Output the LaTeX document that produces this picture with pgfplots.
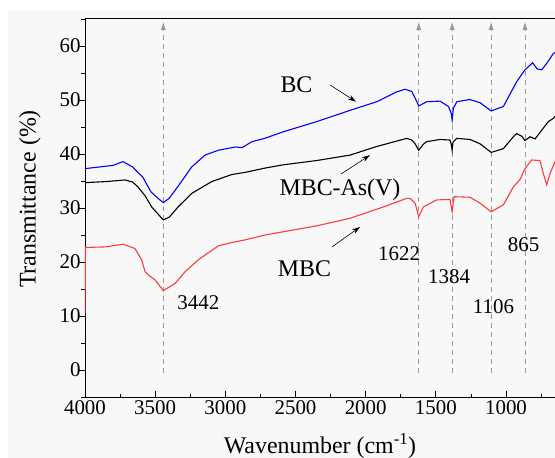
\documentclass[border=0pt]{standalone}
\usepackage{fontspec}
\setmainfont{Liberation Serif}
\usepackage{pgfplots}
\pgfplotsset{compat=1.18}
\usetikzlibrary{arrows.meta}

\definecolor{bgc}{HTML}{F8F8F8}
\definecolor{bcblue}{HTML}{0000FF}
\definecolor{mbcred}{HTML}{FF3B3B}
\definecolor{guide}{HTML}{999999}

\begin{document}
\begin{tikzpicture}
\useasboundingbox (-85bp,-61bp) rectangle (470bp,397bp);
\fill[bgc] (-77bp,-61bp) rectangle (470bp,387bp);
\begin{axis}[
    scale only axis,
    width=470bp, height=379bp,
    x dir=reverse,
    xmin=651, xmax=4000,
    ymin=-5, ymax=65.2,
    xtick={1000,1500,...,4000},
    minor xtick={750,1250,...,3750},
    ytick={0,10,...,60},
    minor ytick={-5,5,...,65},
    xtick pos=left, ytick pos=left,
    tick align=inside,
    major tick length=6bp, minor tick length=3.5bp,
    major y tick style={xshift=-6bp},
    minor y tick style={xshift=-3.5bp},
    tick style={black, line width=0.8bp},
    axis line style={line width=0.9bp},
    /pgf/number format/assume math mode=true,
    /pgf/number format/1000 sep={},
    ticklabel style={font=\fontsize{21}{21}\selectfont},
    yticklabel style={xshift=-1bp},
    xlabel={Wavenumber (cm\textsuperscript{-1})},
    label style={font=\fontsize{24}{24}\selectfont},
    xlabel style={at={(axis description cs:0.5,0)}, anchor=center, yshift=-49bp},
    clip=true,
]
% guide lines at band positions
\addplot[guide, line width=0.9bp, dash pattern=on 5bp off 4bp, -{Latex[length=8bp,width=5bp]}] coordinates {(3442,-0.5) (3442,64.5)};
\addplot[guide, line width=0.9bp, dash pattern=on 5bp off 4bp, -{Latex[length=8bp,width=5bp]}] coordinates {(1622,-0.5) (1622,64.5)};
\addplot[guide, line width=0.9bp, dash pattern=on 5bp off 4bp, -{Latex[length=8bp,width=5bp]}] coordinates {(1384,-0.5) (1384,64.5)};
\addplot[guide, line width=0.9bp, dash pattern=on 5bp off 4bp, -{Latex[length=8bp,width=5bp]}] coordinates {(1106,-0.5) (1106,64.5)};
\addplot[guide, line width=0.9bp, dash pattern=on 5bp off 4bp, -{Latex[length=8bp,width=5bp]}] coordinates {(865,-0.5) (865,64.5)};

% BC
\addplot[bcblue, line width=1.1bp] coordinates {
(4000,37.3) (3900,37.6) (3800,37.9) (3730,38.6) (3660,37.6) (3620,36.5)
(3590,35.8) (3530,33.0) (3480,31.8) (3442,31.0) (3400,31.8) (3340,33.9)
(3240,37.6) (3145,39.8) (3050,40.7) (2930,41.3) (2880,41.2) (2810,42.3)
(2720,42.9) (2590,44.1) (2350,46.0) (2110,48.1) (1920,49.7) (1780,51.5)
(1720,52.0) (1672,51.6) (1650,50.5) (1622,48.9) (1565,49.7) (1470,49.8)
(1410,48.8) (1390,47.5) (1384,46.3) (1375,48.5) (1350,49.7) (1257,50.1)
(1185,49.5) (1106,48.0) (1019,48.8) (924,53.4) (865,55.6) (810,56.9)
(780,55.8) (746,55.6) (710,56.8) (686,57.7) (663,58.6) (651,58.8)
};
% MBC-As(V)
\addplot[black, line width=1.1bp] coordinates {
(4000,34.7) (3850,34.9) (3715,35.2) (3660,34.8) (3622,33.9) (3570,32.2)
(3525,30.2) (3442,27.8) (3400,28.3) (3337,30.2) (3240,32.7) (3097,34.9)
(2955,36.2) (2860,36.6) (2717,37.4) (2589,38.0) (2349,38.8) (2112,39.8)
(1921,41.4) (1779,42.4) (1708,42.9) (1672,42.6) (1650,42.0) (1622,40.7)
(1590,41.8) (1565,42.3) (1470,42.7) (1400,42.6) (1390,41.8) (1384,40.7)
(1378,42.2) (1351,42.9) (1257,42.7) (1185,41.9) (1106,40.3) (1019,41.0)
(948,43.2) (924,43.8) (888,43.3) (865,42.5) (829,43.2) (793,42.8)
(746,44.4) (699,46.0) (663,46.6) (651,47.0)
};
% MBC
\addplot[mbcred, line width=1.1bp] coordinates {
(4000,10.5) (3996,22.7) (3857,22.8) (3727,23.3) (3644,22.5) (3596,20.4)
(3572,18.2) (3549,17.6) (3501,16.7) (3442,14.7) (3359,16.0) (3287,18.2)
(3193,20.4) (3050,23.0) (2955,23.6) (2860,24.1) (2717,25.0) (2589,25.6)
(2349,26.7) (2112,28.1) (1874,30.2) (1708,31.8) (1684,31.8) (1648,30.9)
(1622,28.4) (1589,30.2) (1494,31.5) (1399,31.6) (1384,29.3) (1370,32.1)
(1257,32.0) (1185,30.9) (1106,29.3) (1019,30.6) (948,33.9) (900,35.3)
(865,37.3) (817,38.9) (758,38.8) (734,36.4) (710,34.3) (686,36.4) (651,38.6)
};

% curve labels and pointers
\node[font=\fontsize{24}{24}\selectfont] at (axis cs:2493,52.8) {BC};
\draw[black, line width=0.6bp, -{Stealth[length=8bp,width=5bp]}] (axis cs:2254,52.8) -- (axis cs:2069,49.7);
\node[font=\fontsize{24}{24}\selectfont] at (axis cs:2183,33.3) {MBC-As(V)};
\draw[black, line width=0.6bp, -{Stealth[length=8bp,width=5bp]}] (axis cs:2176,36.3) -- (axis cs:1969,39.8);
\node[font=\fontsize{24}{24}\selectfont] at (axis cs:2436,18.7) {MBC};
\draw[black, line width=0.6bp, -{Stealth[length=8bp,width=5bp]}] (axis cs:2240,22.8) -- (axis cs:2040,26.5);

% band labels
\node[font=\fontsize{21}{21}\selectfont, anchor=west] at (axis cs:3366,12.4) {3442};
\node[font=\fontsize{21}{21}\selectfont] at (axis cs:1762,21.6) {1622};
\node[font=\fontsize{21}{21}\selectfont] at (axis cs:1406,17.2) {1384};
\node[font=\fontsize{21}{21}\selectfont] at (axis cs:1089,11.8) {1106};
\node[font=\fontsize{21}{21}\selectfont] at (axis cs:875,23.3) {865};
\end{axis}
\node[rotate=90, font=\fontsize{24}{24}\selectfont] at (-55bp,198bp) {Transmittance (\%)};
\end{tikzpicture}
\end{document}
